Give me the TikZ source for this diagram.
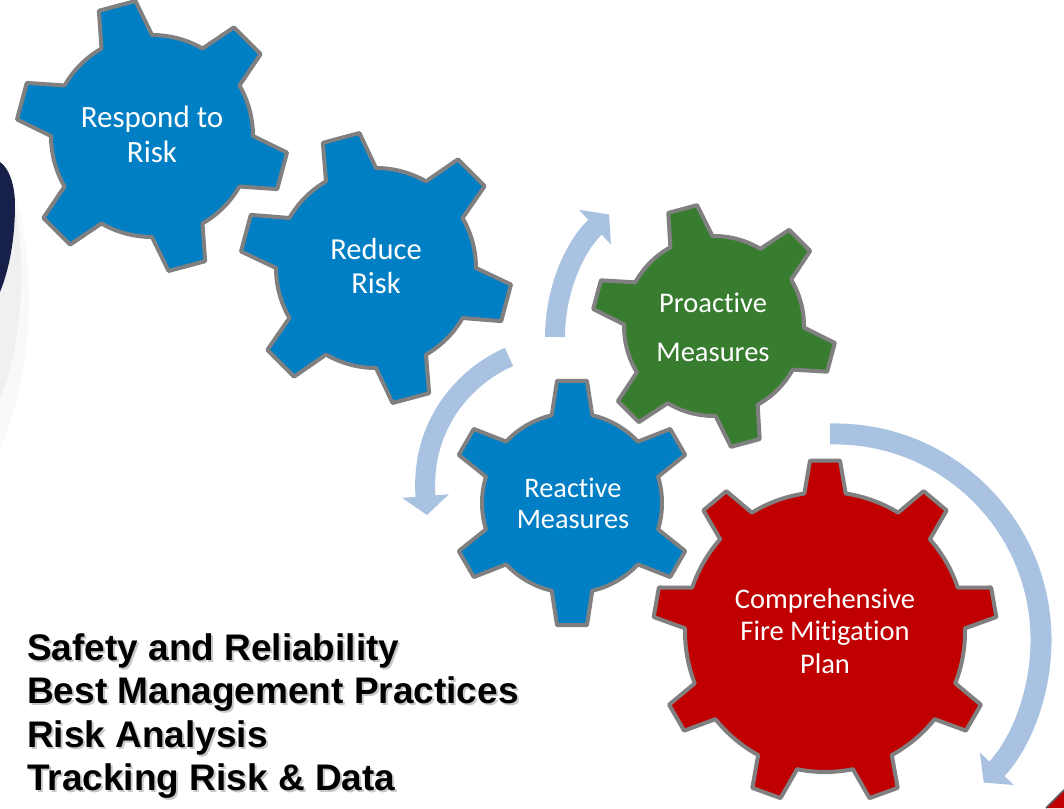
\documentclass[tikz,border=0pt]{standalone}
\usepackage{fontspec}
\setmainfont{Carlito}[Ligatures={NoCommon}]
\newfontfamily\arialfont{Liberation Sans}
\usetikzlibrary{arrows.meta,calc}
\definecolor{gearblue}{RGB}{0,127,196}
\definecolor{geargreen}{RGB}{56,124,48}
\definecolor{gearred}{RGB}{192,0,0}
\definecolor{gearedge}{RGB}{128,128,128}
\definecolor{arrowblue}{RGB}{169,194,226}
\definecolor{navyshape}{RGB}{22,32,72}
% #1 cx, #2 cy, #3 body radius, #4 tip radius, #5 teeth, #6 first tooth angle, #7 base half-angle, #8 tip half-angle
\newcommand{\gearshape}[8]{%
  ([shift={(#1,#2)}]#6-#7:#3)
  \foreach \k [evaluate=\k as \a using #6+(\k-1)*360/#5] in {1,...,#5}{
    -- ([shift={(#1,#2)}]\a-#8:#4)
    -- ([shift={(#1,#2)}]\a+#8:#4)
    -- ([shift={(#1,#2)}]\a+#7:#3)
    arc[start angle=\a+#7, end angle=\a+360/#5-#7, radius=#3]
  } -- cycle}
\tikzset{
  gear/.style={draw=gearedge, line width=4pt, line join=round},
  gtext/.style={text=white, anchor=base, inner sep=0pt},
  btext/.style={anchor=base west, inner sep=0pt, font=\arialfont\bfseries\fontsize{37}{42}\selectfont},
  arr/.style={draw=arrowblue, line width=20pt, -{Triangle[width=46pt,length=19pt]}}
}
\begin{document}
\begin{tikzpicture}[x=1pt, y=-1pt]
\useasboundingbox (0,0) rectangle (1064,808);
\clip (0,0) rectangle (1064,808);
\fill[white] (0,0) rectangle (1064,808);

% left dark shape with soft shadow
\fill[black, opacity=0.025] (0,165) .. controls (22,190) and (32,260) .. (28,330) .. controls (24,380) and (12,420) .. (0,450) -- cycle;
\fill[black, opacity=0.035] (0,165) .. controls (18,190) and (24,250) .. (20,310) .. controls (16,350) and (8,380) .. (0,400) -- cycle;
\fill[navyshape] (0,162) .. controls (9,168) and (15,185) .. (15,205) .. controls (15,240) and (9,270) .. (0,292) -- cycle;

% bottom-right red sliver
\fill[gearred] (1046,808) -- (1064,790) -- (1064,808) -- cycle;
\draw[gearedge!70!black, line width=1.5pt] (1046,808) -- (1064,790);

% gears
\filldraw[gear, fill=gearblue] \gearshape{152}{136}{101}{136}{6}{-105}{15}{8};
\filldraw[gear, fill=gearblue] \gearshape{376}{268}{100}{136}{6}{-105}{15}{8};
\filldraw[gear, fill=geargreen] \gearshape{714}{326}{90}{122}{6}{-105}{14}{7};
\filldraw[gear, fill=gearblue] \gearshape{572}{503}{90}{123}{6}{-90}{13}{7};
\filldraw[gear, fill=gearred] \gearshape{825}{632}{140}{172}{9}{-90}{8.5}{5};

% gear labels
\node[gtext, font=\fontsize{31}{36}\selectfont] (g1a) at (152,127) {Respond to};
\node[gtext, font=\fontsize{31}{36}\selectfont] (g1b) at (152,162) {Risk};
\node[gtext, font=\fontsize{30.5}{36}\selectfont] (g2a) at (376,259) {Reduce};
\node[gtext, font=\fontsize{30.5}{36}\selectfont] (g2b) at (376,293) {Risk};
\node[gtext, font=\fontsize{28.5}{34}\selectfont] (g3a) at (713,312) {Proactive};
\node[gtext, font=\fontsize{28.5}{34}\selectfont] (g3b) at (713,361) {Measures};
\node[gtext, font=\fontsize{28.3}{34}\selectfont] (g4a) at (573,497) {Reactive};
\node[gtext, font=\fontsize{28.3}{34}\selectfont] (g4b) at (573,528) {Measures};
\node[gtext, font=\fontsize{28.5}{34}\selectfont] (g5a) at (825,608) {Comprehensive};
\node[gtext, font=\fontsize{28.5}{34}\selectfont] (g5b) at (825,640) {Fire Mitigation};
\node[gtext, font=\fontsize{28.5}{34}\selectfont] (g5c) at (825,673) {Plan};

% curved arrows
\coordinate (a1s) at (555,337);
\draw[arr] (a1s) arc[start angle=180, end angle=227.6, radius=166];
\coordinate (a2s) at (509,357);
\coordinate (a2e) at (427,515);
\draw[arr] (a2s) .. controls (465,376) and (420,425) .. (a2e);
\coordinate (a3s) at (830,434);
\draw[arr, line width=21pt] (a3s) arc[start angle=-91.4, end angle=43.8, radius=206];

% bottom-left list with soft shadow
\foreach \t/\yy/\nm in {Safety and Reliability/660/b1, Best Management Practices/703/b2, Risk Analysis/747/b3, Tracking Risk \& Data/790/b4}{
  \node[btext, text=black!30, opacity=0.7] (\nm s) at (29,\yy+2) {\t};
  \node[btext, text=black] (\nm) at (27,\yy) {\t};
}
\end{tikzpicture}
\end{document}
